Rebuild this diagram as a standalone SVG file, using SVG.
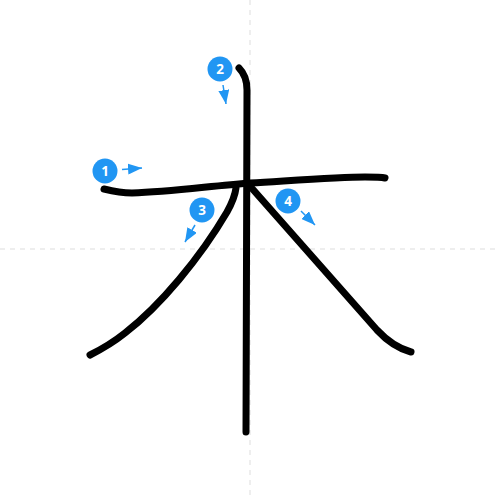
<svg xmlns="http://www.w3.org/2000/svg" width="500" height="500" viewBox="0 0 500 500">
<style>
.grid{stroke:#dddddd;stroke-width:1;stroke-dasharray:5,5;fill:none}
.stroke{stroke:#000;stroke-width:7;fill:none;stroke-linecap:round;stroke-linejoin:round}
.badge{fill:#2196F3}
.num{fill:#fff;font-family:"Open Sans","DejaVu Sans",sans-serif;font-weight:bold;font-size:13.5px;text-anchor:middle}
.arr{stroke:#2196F3;stroke-width:1.5;fill:none}
</style>
<defs>
<marker id="ah" markerUnits="userSpaceOnUse" markerWidth="14" markerHeight="11" refX="14" refY="5.5" orient="auto">
<path d="M0,0 L14,5.5 L0,11 z" fill="#2196F3"/>
</marker>
</defs>
<g id="grid">
<line class="grid" x1="250" y1="0" x2="250" y2="500"/>
<line class="grid" x1="0" y1="249" x2="500" y2="249"/>
</g>
<g id="strokes">
<path id="s1" class="stroke" d="M104,189 C112,191 120,193 132,193 C170,192 210,186 250,183 C300,180 340,177 365,177 C375,177 381,177 385,178"/>
<path id="s2" class="stroke" d="M239,68 C244,73 247,80 247,90 L246,432"/>
<path id="s3" class="stroke" d="M236,188 C235,196 232,203 227,212 C200,258 160,306 125,333 C110,345 100,350 90,355"/>
<path id="s4" class="stroke" d="M249,185 L377,330 C390,344 400,349 411,352"/>
</g>
<g id="connectors">
<line class="arr" x1="122" y1="169.5" x2="142" y2="168" marker-end="url(#ah)"/>
<line class="arr" x1="223" y1="85" x2="226" y2="104" marker-end="url(#ah)"/>
<line class="arr" x1="195" y1="225" x2="185" y2="242" marker-end="url(#ah)"/>
<line class="arr" x1="301" y1="211" x2="315" y2="225" marker-end="url(#ah)"/>
</g>
<g id="n1"><circle class="badge" cx="105" cy="171" r="12.5"/><text class="num" x="105" y="176">1</text></g>
<g id="n2"><circle class="badge" cx="220" cy="69" r="12.5"/><text class="num" x="220" y="74">2</text></g>
<g id="n3"><circle class="badge" cx="202" cy="210" r="12.5"/><text class="num" x="202" y="215">3</text></g>
<g id="n4"><circle class="badge" cx="288" cy="201" r="12.5"/><text class="num" x="288" y="206">4</text></g>
</svg>
